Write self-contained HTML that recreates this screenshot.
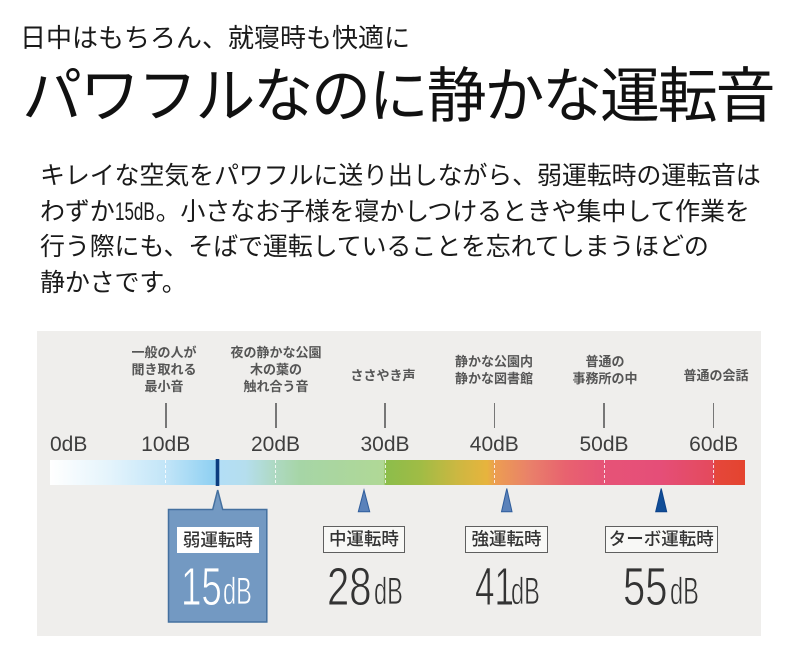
<!DOCTYPE html>
<html><head><meta charset="utf-8">
<style>
*{margin:0;padding:0;box-sizing:border-box}
html,body{width:800px;height:660px;background:#fff;overflow:hidden}
body{position:relative;font-family:"Liberation Sans","Noto Sans CJK JP",sans-serif;color:#1a1a1a}
.a{position:absolute;white-space:nowrap}
.jp{font-family:"Liberation Sans","Noto Sans CJK JP",sans-serif}
.p{font-size:25px;line-height:36px;left:40px;letter-spacing:-0.15px;color:#1a1a1a}
.lbl{font-size:13px;line-height:17px;font-weight:700;color:#555;text-align:center;width:140px}
.tick{position:absolute;top:403px;width:1.5px;height:25px;background:#777}
.db{font-family:"Liberation Sans",sans-serif;font-size:21px;line-height:20px;color:#3e3e3e;text-align:center;width:80px}
.dash{position:absolute;top:459.5px;height:25px;width:1px;background:repeating-linear-gradient(to bottom,rgba(255,255,255,.8) 0 3px,transparent 3px 5px)}
.box{position:absolute;top:526px;height:27px;border:1.5px solid #5f5f5f;background:#f8f8f6;font-size:17.5px;line-height:24px;text-align:center;color:#333;font-weight:500}
.dg{position:absolute;top:559.8px;font-family:"Liberation Sans",sans-serif;font-size:54px;line-height:54px;transform-origin:0 0;color:#333;-webkit-text-stroke:0.9px #efeeec}
.dbu{position:absolute;top:573.3px;font-family:"Liberation Sans",sans-serif;font-size:38px;line-height:38px;transform:scaleX(0.62);transform-origin:0 0;color:#333;-webkit-text-stroke:0.7px #efeeec}
.w{color:#fff;-webkit-text-stroke-color:#7399c2}
</style></head><body>

<div class="a jp" style="left:20px;top:25px;font-size:26px;line-height:26px;color:#1a1a1a">日中はもちろん、就寝時も快適に</div>
<div class="a jp" style="left:22px;top:67px;font-size:60px;line-height:60px;letter-spacing:-2.2px;color:#111">パワフルなのに静かな運転音</div>

<div class="a p jp" style="top:158px">キレイな空気をパワフルに送り出しながら、弱運転時の運転音は</div>
<div class="a p jp" style="top:193.5px">わずか<span style="display:inline-block;width:41px;vertical-align:baseline"><span style="display:inline-block;font-family:'Liberation Sans',sans-serif;font-size:25px;transform:scaleX(0.68);transform-origin:0 0;letter-spacing:0">15dB</span></span>。小さなお子様を寝かしつけるときや集中して作業を</div>
<div class="a p jp" style="top:229px">行う際にも、そばで運転していることを忘れてしまうほどの</div>
<div class="a p jp" style="top:265px">静かさです。</div>

<!-- panel -->
<div class="a" style="left:37px;top:331px;width:724px;height:305px;background:#efeeec"></div>

<!-- descriptive labels -->
<div class="a lbl jp" style="left:94px;top:344px">一般の人が<br>聞き取れる<br>最小音</div>
<div class="a lbl jp" style="left:206px;top:344px">夜の静かな公園<br>木の葉の<br>触れ合う音</div>
<div class="a lbl jp" style="left:313px;top:366.5px">ささやき声</div>
<div class="a lbl jp" style="left:424px;top:353.3px">静かな公園内<br>静かな図書館</div>
<div class="a lbl jp" style="left:535px;top:353.3px">普通の<br>事務所の中</div>
<div class="a lbl jp" style="left:646px;top:366.5px">普通の会話</div>

<!-- ticks -->
<div class="tick" style="left:165px"></div>
<div class="tick" style="left:275px"></div>
<div class="tick" style="left:384.3px"></div>
<div class="tick" style="left:493.8px"></div>
<div class="tick" style="left:603.3px"></div>
<div class="tick" style="left:712.8px"></div>

<!-- dB labels -->
<div class="a db" style="left:50px;top:434.6px;width:auto;text-align:left">0dB</div>
<div class="a db" style="left:125.7px;top:434.6px">10dB</div>
<div class="a db" style="left:235.5px;top:434.6px">20dB</div>
<div class="a db" style="left:345px;top:434.6px">30dB</div>
<div class="a db" style="left:454.3px;top:434.6px">40dB</div>
<div class="a db" style="left:564px;top:434.6px">50dB</div>
<div class="a db" style="left:673.7px;top:434.6px">60dB</div>

<!-- color bar -->
<div class="a" style="left:50px;top:459.5px;width:694.5px;height:25px;background:linear-gradient(to right,#ffffff 0%,#e4f4fc 8.6%,#c2e5f8 16.6%,#8fd0f2 23.6%,#b3def6 24.4%,#b5deee 28.1%,#aed9c2 32.4%,#a6d5a6 36%,#b0d896 48%,#8cbd4b 48.3%,#a0bc45 53.3%,#cfb741 59%,#e7b43d 62.9%,#ec9d52 64.1%,#e9806a 69.1%,#e8626f 74.2%,#e65377 79.8%,#e54e78 87.8%,#e44b63 93.6%,#e4495c 95.5%,#e5473b 95.7%,#e4442f 100%)"></div>
<div class="dash" style="left:165.2px"></div>
<div class="dash" style="left:275.2px"></div>
<div class="dash" style="left:384.5px"></div>
<div class="dash" style="left:494px"></div>
<div class="dash" style="left:603.5px"></div>
<div class="dash" style="left:713px"></div>

<svg class="a" style="left:0;top:0" width="800" height="660" viewBox="0 0 800 660">
  <path d="M168.5,509.5 H212.7 L217.7,490 L222.7,509.5 H266.8 V622 H168.5 Z" fill="#7399c2" stroke="#44709f" stroke-width="1.5"/>
  <rect x="215.7" y="459" width="3.6" height="27" fill="#0c3d7f"/>
  <polygon points="358.3,511.7 364,490 369.7,511.7" fill="#5b82ba" stroke="#2f5d9c" stroke-width="1"/>
  <polygon points="501.5,511.7 506.8,488.5 512,511.7" fill="#5b82ba" stroke="#2f5d9c" stroke-width="1"/>
  <polygon points="655.7,511.7 661.2,488.5 666.7,511.7" fill="#104d97" stroke="#0c4189" stroke-width="1"/>
</svg>

<!-- labels -->
<div class="box jp" style="left:176.7px;top:526.7px;width:82.3px;height:26px;border:none;background:#fff;line-height:26px">弱運転時</div>
<div class="box jp" style="left:322.7px;width:82.5px">中運転時</div>
<div class="box jp" style="left:465.3px;width:82.5px">強運転時</div>
<div class="box jp" style="left:605px;width:112.5px">ターボ運転時</div>

<!-- values -->
<div class="dg w" style="left:180.7px;transform:scaleX(0.68)">15</div>
<div class="dbu w" style="left:222.5px">dB</div>
<div class="dg" style="left:326.8px;transform:scaleX(0.74)">28</div>
<div class="dbu" style="left:374px">dB</div>
<div class="dg" style="left:474.6px;transform:scaleX(0.65)">41</div>
<div class="dbu" style="left:511px">dB</div>
<div class="dg" style="left:623px;transform:scaleX(0.74)">55</div>
<div class="dbu" style="left:669.5px">dB</div>

</body></html>
